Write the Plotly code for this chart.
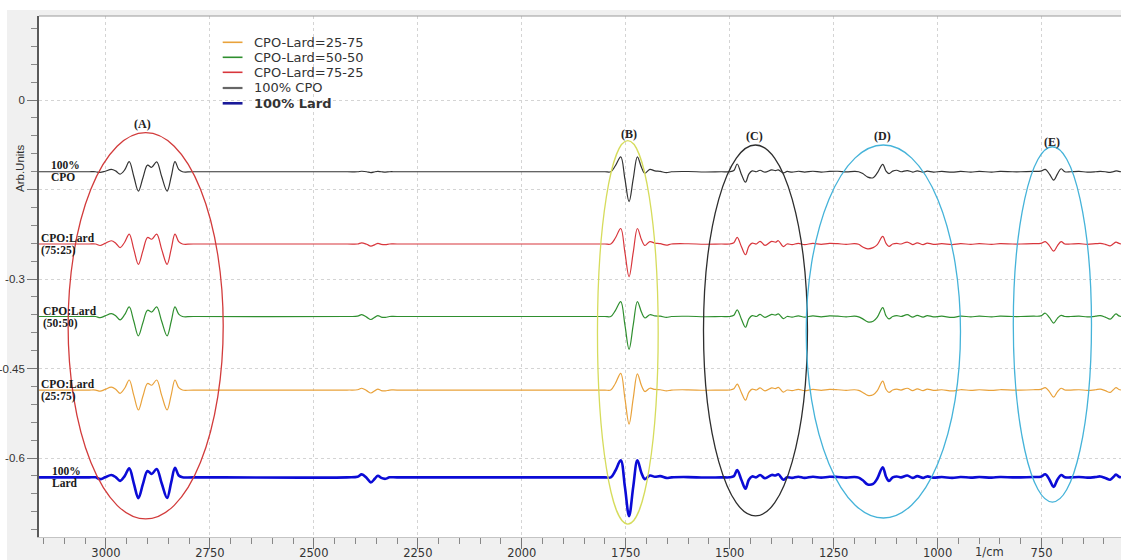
import plotly.graph_objects as go

# ---------------- data ----------------
# wavenumber grid (1/cm), shared by all spectra
wavenumber = [
    3161, 3060,
    3040, 3025, 3014, 3002, 2987, 2976, 2966, 2955, 2944, 2933, 2922, 2911, 2900, 2890, 2878, 2866, 2853, 2843, 2834, 2825, 2816, 2790,
    2420,
    2395, 2385, 2373, 2363, 2353, 2346, 2338, 2328, 2318,
    2300, 1820,
    1800, 1786, 1775, 1762, 1752, 1742, 1732, 1722, 1712, 1704, 1692, 1680, 1667, 1652, 1640,
    1600, 1560, 1520,
    1500, 1490, 1482, 1472, 1462, 1454, 1446, 1436, 1427, 1415, 1399, 1390, 1383, 1371, 1362, 1350, 1335, 1320, 1300, 1280, 1260, 1240, 1220,
    1200, 1190, 1180, 1168, 1155, 1145, 1132, 1124, 1117, 1108, 1098, 1088, 1073, 1060, 1049, 1035, 1025, 1010, 990, 965, 945, 920, 900, 870, 850, 820,
    800, 770, 752, 741, 731, 721, 712, 703, 694, 680, 660,
    640, 620, 609, 597, 585, 578, 571, 564, 559,
]

# second-derivative deflections (Arb. units) of each spectrum, same grid
cpo_100 = [
    0, 0,
    0, 0, -0.0012, 0.0008, 0.004, 0.001, -0.004, 0.003, 0.0168, -0.008, -0.0325, -0.010, 0.011, 0.0075, 0.0165, -0.008, -0.0325, -0.008, 0.0168, 0.004, 0, 0,
    0,
    0, 0.0008, 0, -0.0015, 0, 0.0005, 0, -0.0005, 0,
    0, 0,
    0, 0, 0.010, 0.025, -0.012, -0.050, -0.012, 0.025, 0.007, -0.0025, 0.004, 0.0015, 0.0005, -0.0015, 0,
    0.0004, -0.0004, 0,
    0, 0.002, 0.013, -0.004, -0.0175, -0.004, 0.0015, 0.000, 0.0025, -0.0008, 0.003, 0.002, 0.003, -0.002, 0.0005, -0.0008, 0.0008, -0.0005, 0.0008, -0.0005, 0.0005, 0.0008, -0.0003,
    0.0005, 0, -0.003, -0.009, -0.010, -0.002, 0.0125, 0.001, -0.003, 0.001, 0.0025, 0.000, 0.002, -0.0005, 0.0015, -0.0008, 0.001, -0.0005, 0.0005, -0.0008, 0.0005, -0.0005, 0.0005, -0.0005, 0.0005, 0,
    0, 0.0005, 0.001, 0.004, -0.004, -0.014, -0.004, 0.005, 0.000, 0, 0.0005,
    -0.0005, 0, 0.0005, 0, -0.001, 0, 0.0015, 0.0005, 0,
]

cpo_lard_75_25 = [
    0, 0,
    0, 0, -0.0025, 0.001, 0.0055, 0.001, -0.006, 0.003, 0.0165, -0.009, -0.034, -0.011, 0.011, 0.008, 0.0165, -0.009, -0.034, -0.008, 0.0165, 0.004, 0, 0,
    0,
    0, 0.002, -0.0005, -0.0035, -0.001, 0.001, -0.0005, -0.001, 0,
    0, 0,
    0, 0, 0.010, 0.026, -0.014, -0.055, -0.014, 0.026, 0.007, -0.0025, 0.004, 0.0015, 0.0005, -0.002, 0,
    0.0004, -0.0004, 0,
    0, 0.002, 0.011, -0.004, -0.018, -0.004, 0.0015, 0.000, 0.0045, -0.0022, 0.0045, 0.003, 0.0055, -0.0045, 0.000, -0.001, 0.001, -0.001, 0.001, -0.0005, 0.001, 0.0005, -0.0005,
    0.0005, -0.0005, -0.005, -0.008, -0.006, -0.001, 0.0127, 0.001, -0.004, 0.000, 0.001, 0.000, 0.0033, -0.001, 0.002, -0.001, 0.0015, -0.0005, 0.0005, -0.001, 0.0005, -0.0005, 0.0005, -0.0005, 0.0005, 0,
    0, 0.0005, 0.001, 0.004, -0.003, -0.012, -0.003, 0.004, 0.000, 0, 0.0005,
    -0.0005, 0.0005, 0.001, -0.0005, -0.003, 0, 0.003, 0.001, 0,
]

cpo_lard_50_50 = [
    0, 0,
    0, 0, -0.002, 0.001, 0.005, 0.001, -0.0055, 0.003, 0.016, -0.008, -0.0325, -0.010, 0.0105, 0.0075, 0.016, -0.008, -0.0325, -0.008, 0.016, 0.004, 0, 0,
    0,
    0.0005, 0.003, -0.001, -0.005, -0.001, 0.0015, -0.001, -0.0015, 0,
    0, 0,
    0, 0, 0.010, 0.025, -0.014, -0.055, -0.014, 0.025, 0.007, -0.0025, 0.003, 0.001, 0.0005, -0.0015, 0,
    0.0004, -0.0004, 0,
    0, 0.002, 0.011, -0.004, -0.018, -0.004, 0.0015, 0.000, 0.0035, -0.0015, 0.0035, 0.0025, 0.0045, -0.0035, 0.000, -0.001, 0.001, -0.001, 0.001, -0.0005, 0.001, 0.0005, -0.0005,
    0.0005, -0.0005, -0.004, -0.009, -0.008, -0.001, 0.015, 0.001, -0.004, 0.000, 0.0015, 0.000, 0.003, -0.001, 0.002, -0.001, 0.0015, -0.0005, 0.0005, -0.0015, 0.0005, -0.0005, 0.0005, -0.0005, 0.0005, 0,
    0, 0.0005, 0.001, 0.0055, -0.002, -0.011, -0.003, 0.002, 0.000, 0, 0.0005,
    -0.0005, 0.0005, 0.0015, -0.001, -0.0045, 0, 0.0045, 0.001, 0,
]

cpo_lard_25_75 = [
    0, 0,
    0, 0, -0.002, 0.001, 0.005, 0.001, -0.0055, 0.003, 0.0168, -0.009, -0.0335, -0.010, 0.011, 0.008, 0.0168, -0.009, -0.0335, -0.008, 0.0168, 0.004, 0, 0,
    0,
    0.0005, 0.003, -0.001, -0.005, -0.001, 0.0015, -0.001, -0.0015, 0,
    0, 0,
    0, 0, 0.011, 0.028, -0.014, -0.057, -0.014, 0.027, 0.007, -0.0025, 0.003, 0.001, 0.0005, -0.0015, 0,
    0.0004, -0.0004, 0,
    0, 0.002, 0.010, -0.004, -0.017, -0.004, 0.0015, 0.000, 0.0035, -0.0015, 0.0035, 0.0025, 0.0045, -0.0035, 0.000, -0.001, 0.001, -0.001, 0.001, -0.0005, 0.001, 0.0005, -0.0005,
    0.0005, -0.0005, -0.004, -0.009, -0.008, -0.001, 0.015, 0.001, -0.004, 0.000, 0.0015, 0.000, 0.003, -0.001, 0.002, -0.001, 0.0015, -0.0005, 0.0005, -0.0015, 0.0005, -0.0005, 0.0005, -0.0005, 0.0005, 0,
    0, 0.0005, 0.001, 0.004, -0.003, -0.012, -0.003, 0.003, 0.000, 0, 0.0005,
    -0.0005, 0.0005, 0.0015, -0.001, -0.004, 0, 0.004, 0.001, 0,
]

lard_100 = [
    0, 0,
    0, 0, -0.003, 0.000, 0.004, 0.000, -0.006, 0.002, 0.015, -0.010, -0.035, -0.011, 0.0105, 0.0055, 0.014, -0.010, -0.0345, -0.008, 0.016, 0.003, 0, 0,
    0,
    0.001, 0.005, -0.001, -0.0085, -0.002, 0.0027, -0.001, -0.0025, 0,
    0, 0,
    0, 0, 0.011, 0.0285, -0.016, -0.065, -0.016, 0.0285, 0.007, -0.003, 0.003, 0.001, 0.002, -0.001, 0,
    0.0004, -0.0004, 0,
    0, 0.002, 0.012, -0.004, -0.019, -0.004, 0.0015, 0.000, 0.004, -0.0015, 0.004, 0.003, 0.005, -0.004, 0.000, -0.001, 0.001, -0.001, 0.001, -0.0005, 0.001, 0.0005, -0.0005,
    0.0005, -0.0005, -0.005, -0.012, -0.011, -0.002, 0.017, 0.001, -0.006, 0.000, 0.0015, 0.000, 0.003, -0.001, 0.002, -0.001, 0.0015, -0.0005, 0.0005, -0.001, 0.0005, -0.0005, 0.0005, -0.0005, 0.0005, 0,
    0, 0.0005, 0.001, 0.005, -0.004, -0.016, -0.004, 0.004, 0.000, 0, 0.0005,
    -0.0005, 0.0005, 0.0015, -0.001, -0.004, 0, 0.0045, 0.001, 0,
]

# vertical stacking offsets of the spectra (Arb. units)
series_names = ["CPO-Lard=25-75", "CPO-Lard=50-50", "CPO-Lard=75-25", "100% CPO", "100% Lard"]
series_values = [cpo_lard_25_75, cpo_lard_50_50, cpo_lard_75_25, cpo_100, lard_100]
series_offsets = [-0.486, -0.3628, -0.2413, -0.1202, -0.6323]

# left-hand trace labels
side_label_top = ["CPO:Lard", "CPO:Lard", "CPO:Lard", "100%", "100%"]
side_label_bottom = ["(25:75)", "(50:50)", "(75:25)", "CPO", "Lard"]

# circled regions (A)-(E): wavenumber span and y span
region_names = ["(A)", "(B)", "(C)", "(D)", "(E)"]
region_wn = [(3091, 2718), (1818, 1672), (1563, 1313), (1316, 945), (818, 630)]
region_y = [(-0.0548, -0.702), (-0.0682, -0.7106), (-0.0754, -0.697), (-0.0754, -0.7005), (-0.0783, -0.6737)]
region_label_pos = [(2911, -0.0400), (1742, -0.0570), (1440, -0.0610), (1133, -0.0610), (726, -0.0700)]

x_major = [3000, 2750, 2500, 2250, 2000, 1750, 1500, 1250, 1000, 750]
y_major = [0, -0.15, -0.3, -0.45, -0.6]
y_major_text = ["0", "", "-0.3", "-0.45", "-0.6"]

# ---------------- styles ----------------
W, H = 1121, 560
ML, MR, MT, MB = 39, 0, 16, 23
PW, PH = W - ML - MR, H - MT - MB

colors = ["#e9a23b", "#2f8f2f", "#d8363c", "#333333", "#0b0bd6"]
widths = [1.2, 1.2, 1.2, 1.2, 2.6]
legend_colors = ["#e9a23b", "#2f8f2f", "#d8363c", "#666666", "#1a1a9a"]
region_colors = ["#d23b3b", "#d6dc5c", "#2e2e2e", "#45b3d9", "#45b3d9"]
SANS = "DejaVu Sans"
NARROW = "Liberation Sans"
SERIF = "Liberation Serif"


def px2x(px):
    return (px - ML) / PW


def px2y(py):
    return (H - MB - py) / PH


fig = go.Figure()
for name, vals, off, col, w in zip(series_names, series_values, series_offsets, colors, widths):
    fig.add_trace(go.Scatter(
        x=wavenumber, y=[off + v for v in vals], mode="lines", name=name,
        line=dict(color=col, width=w, shape="spline", smoothing=1.0),
        showlegend=False, hoverinfo="skip"))

shapes = []
annotations = []

# ellipses
for (x0, x1), (y0, y1), col in zip(region_wn, region_y, region_colors):
    shapes.append(dict(type="circle", xref="x", yref="y", x0=x0, x1=x1, y0=y0, y1=y1,
                       line=dict(color=col, width=1.3), layer="above"))
for name, (lx, ly) in zip(region_names, region_label_pos):
    annotations.append(dict(x=lx, y=ly, xref="x", yref="y", text="<b>%s</b>" % name,
                            showarrow=False, font=dict(family=SERIF, size=12, color="#222")))

# side labels
side_px = [(40.5, 384, 396), (42.5, 311, 323.3), (40.5, 238.3, 250), (51, 165.2, 177.3), (51.5, 471.2, 483.3)]
for (sx, y1, y2), t1, t2 in zip(side_px, side_label_top, side_label_bottom):
    for yy, tt in ((y1, t1), (y2, t2)):
        annotations.append(dict(x=px2x(sx), y=px2y(yy), xref="paper", yref="paper",
                                xanchor="left", yanchor="middle", text="<b>%s</b>" % tt,
                                showarrow=False, borderpad=0, xshift=-1,
                                font=dict(family=SERIF, size=11.5, color="#1a1a1a")))

# custom legend
legend_rows = [42.3, 57.3, 72.3, 88, 103.3]
for name, col, w, ry in zip(series_names, legend_colors, [1.6, 1.6, 1.6, 2.2, 2.6], legend_rows):
    shapes.append(dict(type="line", xref="paper", yref="paper", x0=px2x(222.7), x1=px2x(242.5),
                       y0=px2y(ry), y1=px2y(ry), line=dict(color=col, width=w)))
    txt = "<b>%s</b>" % name if name == "100% Lard" else name
    annotations.append(dict(x=px2x(251.5), y=px2y(ry), xref="paper", yref="paper",
                            xanchor="left", yanchor="middle", text=txt, showarrow=False,
                            font=dict(family=SANS, size=13, color="#333")))

# axis title and unit
annotations.append(dict(x=px2x(20), y=px2y(168), xref="paper", yref="paper", text="Arb.Units",
                        xanchor="center", yanchor="middle",
                        textangle=-90, showarrow=False, font=dict(family=NARROW, size=11.5, color="#333")))
annotations.append(dict(x=875, y=px2y(552), xref="x", yref="paper", text="1/cm",
                        xanchor="center", yanchor="middle",
                        showarrow=False, font=dict(family=SANS, size=11.5, color="#333")))

# frame details: top border, white strips at top/left of the window
shapes.append(dict(type="line", xref="paper", yref="paper", x0=0, x1=1, y0=1, y1=1,
                   line=dict(color="#9a9a9a", width=1)))
shapes.append(dict(type="rect", xref="paper", yref="paper", x0=px2x(0), x1=px2x(W), y0=px2y(10),
                   y1=px2y(-2), fillcolor="white", line=dict(width=0), layer="below"))
shapes.append(dict(type="rect", xref="paper", yref="paper", x0=px2x(-2), x1=px2x(7), y0=px2y(H + 2),
                   y1=px2y(-2), fillcolor="white", line=dict(width=0), layer="below"))

fig.update_layout(
    width=W, height=H, autosize=False,
    margin=dict(l=ML, r=MR, t=MT, b=MB, pad=0),
    paper_bgcolor="#f0f0f0", plot_bgcolor="white",
    showlegend=False, shapes=shapes, annotations=annotations,
    font=dict(family=SANS, size=11.5, color="#333"),
)
fig.update_xaxes(
    range=[3161, 559], tickmode="array", tickvals=x_major,
    ticks="outside", ticklen=11, tickwidth=1, tickcolor="#777", ticklabelstandoff=-6,
    minor=dict(tickmode="linear", tick0=3000, dtick=50, ticks="outside", ticklen=6,
               tickcolor="#888", showgrid=False),
    showgrid=True, gridcolor="#d4d4d4", griddash="dot", gridwidth=1,
    showline=True, linecolor="#c4c4c4", linewidth=1, zeroline=False,
    tickfont=dict(family=SANS, size=11.5, color="#333"), automargin=False,
)
fig.update_yaxes(
    range=[-0.7323, 0.1408], tickmode="array", tickvals=y_major, ticktext=y_major_text,
    ticks="outside", ticklen=10, tickwidth=1, tickcolor="#777",
    minor=dict(tickmode="linear", tick0=0, dtick=0.03, ticks="outside", ticklen=6,
               tickcolor="#888", showgrid=False),
    showgrid=True, gridcolor="#d4d4d4", griddash="dot", gridwidth=1,
    showline=True, linecolor="#5a5a5a", linewidth=1.6, zeroline=False,
    tickfont=dict(family=NARROW, size=11.5, color="#333"), automargin=False,
)

fig.write_html(
    "out.html",
    config={"displayModeBar": False},
    post_script="document.body.style.margin='0';document.body.style.overflow='hidden';"
                "document.documentElement.style.overflow='hidden';",
)
